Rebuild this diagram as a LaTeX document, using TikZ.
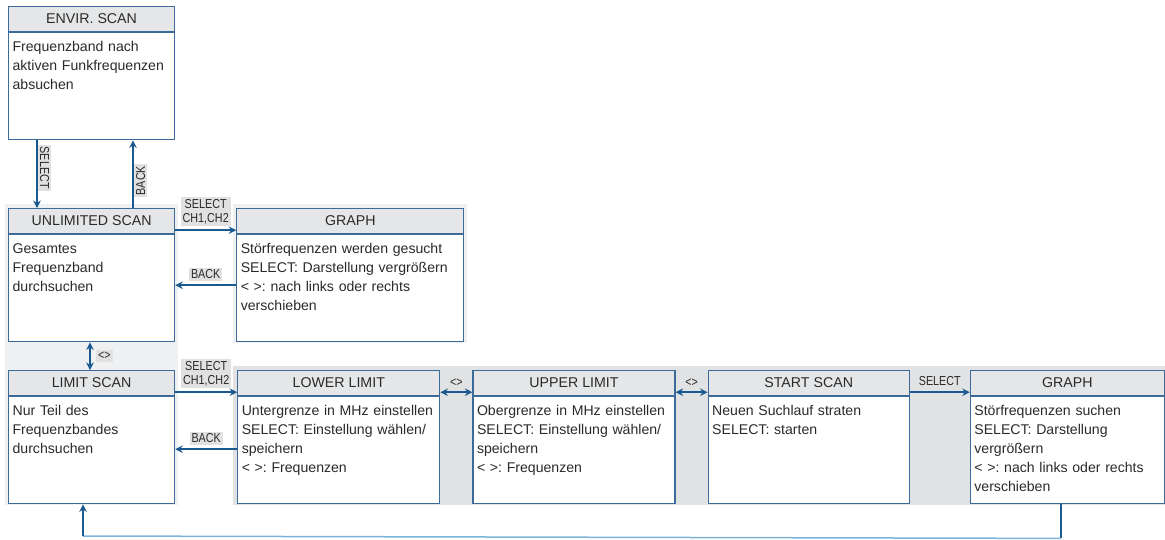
\documentclass[tikz,border=0pt]{standalone}
\usepackage{fontspec}
\setmainfont{Liberation Sans}
\newfontfamily\lblfont[FakeStretch=0.83]{Liberation Sans}
\usetikzlibrary{arrows.meta,positioning,calc}
\frenchspacing
\hyphenpenalty=10000

\definecolor{boxblue}{HTML}{3D6B99}
\definecolor{arrowblue}{HTML}{1B5A90}
\definecolor{lineblue}{HTML}{7DB3DA}
\definecolor{headgray}{HTML}{E5E6E7}
\definecolor{lightbg}{HTML}{EFF0F2}
\definecolor{darkbg}{HTML}{E1E2E3}
\definecolor{lblgray}{HTML}{E1E1E1}
\definecolor{txtgray}{HTML}{2A2A2A}

\begin{document}
\begin{tikzpicture}[x=1pt,y=-1pt,->,>={Stealth[length=7.5pt,width=7.5pt]},semithick,node distance=0pt,text=txtgray]

    \tikzstyle{head}=[draw=boxblue,line width=1.2pt,fill=headgray,anchor=north west,minimum height=25pt,inner sep=0pt,font=\fontsize{14.2}{19}\selectfont]
    \tikzstyle{body}=[draw=boxblue,line width=1.2pt,fill=white,anchor=north,align=left,inner xsep=4pt,inner ysep=8pt,text height=11pt,text depth=80pt,font=\fontsize{14.1}{19}\selectfont]
    \tikzstyle{lbl}=[fill=lblgray,inner sep=2pt,align=center,font=\lblfont\fontsize{13}{14}\selectfont]
    \tikzstyle{link}=[draw=arrowblue,line width=2.2pt]

    \useasboundingbox (0,0) rectangle (1165,539);

    % backgrounds
    \fill[lightbg] (5,204) rectangle (178,505);
    \fill[lightbg] (233,204) rectangle (467,343);
    \fill[darkbg] (233,366) rectangle (1165,505);

    % boxes
    \node[head, minimum width=166pt] (envirh) at (8,6)   {ENVIR. SCAN};
    \node[body, text width=158pt, below=of envirh] (envirb)
        {Frequenzband nach\\aktiven Funkfrequenzen\\absuchen};

    \node[head, minimum width=166pt] (unlh) at (8,208)   {UNLIMITED SCAN};
    \node[body, text width=158pt, below=of unlh] (unlb)
        {Gesamtes\\Frequenzband\\durchsuchen};

    \node[head, minimum width=227pt, right=61pt of unlh] (gr1h) {GRAPH};
    \node[body, text width=219pt, below=of gr1h] (gr1b)
        {Störfrequenzen werden gesucht\\SELECT: Darstellung vergrößern\\< >: nach links oder rechts\\verschieben};

    \node[head, minimum width=166pt] (limh) at (8,370)   {LIMIT SCAN};
    \node[body, text width=158pt, below=of limh] (limb)
        {Nur Teil des\\Frequenzbandes\\durchsuchen};

    \node[head, minimum width=202pt, right=62pt of limh] (lowh) {LOWER LIMIT};
    \node[body, text width=194pt, below=of lowh] (lowb)
        {Untergrenze in MHz einstellen\\SELECT: Einstellung wählen/\\speichern\\< >: Frequenzen};

    \node[head, minimum width=202pt, right=32pt of lowh] (upph) {UPPER LIMIT};
    \node[body, text width=194pt, below=of upph] (uppb)
        {Obergrenze in MHz einstellen\\SELECT: Einstellung wählen/\\speichern\\< >: Frequenzen};

    \node[head, minimum width=201pt, right=32pt of upph] (starth) {START SCAN};
    \node[body, text width=193pt, below=of starth] (startb)
        {Neuen Suchlauf straten\\SELECT: starten};

    \node[head, minimum width=194pt, right=60pt of starth] (gr2h) {GRAPH};
    \node[body, text width=186pt, below=of gr2h] (gr2b)
        {Störfrequenzen suchen\\SELECT: Darstellung\\vergrößern\\< >: nach links oder rechts\\verschieben};

    % connections
    \draw[link] ([xshift=29pt]envirb.south west) -- ([xshift=29pt]unlh.north west)
        node[lbl, rotate=-90, anchor=south, pos=0.36, xshift=3pt] (selenv) {SELECT};
    \draw[link] ([xshift=125pt]unlh.north west) -- ([xshift=125pt]envirb.south west)
        node[lbl, rotate=90, anchor=north, pos=0.36, xshift=3pt] (backenv) {BACK};

    \draw[link] ([yshift=4pt]unlh.south east) -- ([yshift=4pt]gr1h.south west)
        node[lbl, midway, above=3pt] (selgr1) {SELECT\\CH1,CH2};
    \draw[link] ([yshift=-51pt]gr1b.north west) -- ([yshift=-51pt]unlb.north east)
        node[lbl, midway, above=3pt] (backgr1) {BACK};

    \draw[link,<->] ([xshift=82pt]unlb.south west) -- ([xshift=82pt]limh.north west)
        node[lbl, midway, anchor=west, xshift=5pt] (swlim) {<>};

    \draw[link] ([yshift=4pt]limh.south east) -- ([yshift=4pt]lowh.south west)
        node[lbl, midway, above=3pt] (sellow) {SELECT\\CH1,CH2};
    \draw[link] ([yshift=-53pt]lowb.north west) -- ([yshift=-53pt]limb.north east)
        node[lbl, midway, above=3pt] (backlow) {BACK};

    \draw[link,<->] ([yshift=4pt]lowh.south east) -- ([yshift=4pt]upph.south west)
        node[lbl, fill=none, midway, above=3pt] (swupp) {<>};
    \draw[link,<->] ([yshift=4pt]upph.south east) -- ([yshift=4pt]starth.south west)
        node[lbl, fill=none, midway, above=3pt] (swstart) {<>};
    \draw[link] ([yshift=4pt]starth.south east) -- ([yshift=4pt]gr2h.south west)
        node[lbl, fill=none, midway, above=3pt] (selgr2) {SELECT};

    % return to limit scan
    \draw[link,-] ([xshift=91pt]gr2b.south west) -- ++(0,34) coordinate (ret1);
    \coordinate (ret2) at (83,536);
    \draw[-,draw=lineblue,line width=1.5pt] (ret1) -- (ret2);
    \draw[link] (ret2) -- (ret2 |- limb.south);

\end{tikzpicture}
\end{document}
